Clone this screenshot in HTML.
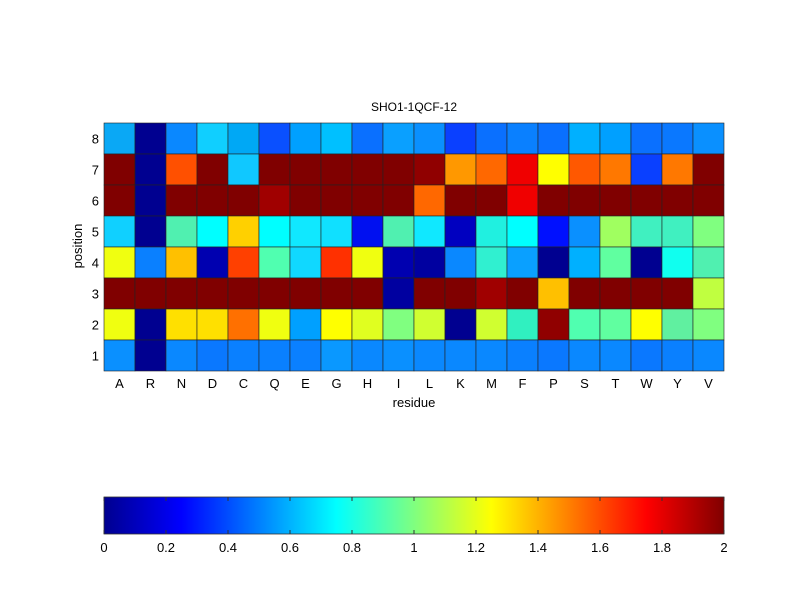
<!DOCTYPE html>
<html><head><meta charset="utf-8"><style>
html,body{margin:0;padding:0;background:#fff;}
svg{display:block;font-family:"Liberation Sans",Arial,sans-serif;}
</style></head><body>
<svg width="800" height="600" viewBox="0 0 800 600" xmlns="http://www.w3.org/2000/svg">
<defs>
<linearGradient id="jet" x1="0" x2="1" y1="0" y2="0">
<stop offset="0" stop-color="#00008f"/>
<stop offset="0.125" stop-color="#0000ff"/>
<stop offset="0.375" stop-color="#00ffff"/>
<stop offset="0.625" stop-color="#ffff00"/>
<stop offset="0.875" stop-color="#ff0000"/>
<stop offset="1" stop-color="#800000"/>
</linearGradient>
</defs>
<rect width="800" height="600" fill="#fff"/>
<g id="cells" stroke="#222" stroke-width="0.6"></g>
<text x="414" y="111" font-size="12" text-anchor="middle">SHO1-1QCF-12</text>
<g font-size="13" text-anchor="end" id="yl"></g>
<g font-size="13" text-anchor="middle" id="xl"></g>
<text x="414" y="407" font-size="13" text-anchor="middle">residue</text>
<text transform="translate(82,246) rotate(-90)" font-size="13" text-anchor="middle">position</text>
<rect x="104" y="497" width="620" height="37" fill="url(#jet)" stroke="#333" stroke-width="0.8"/>
<g id="cb" font-size="13" text-anchor="middle"></g>
</svg>
<script>
var rows=[
["#0aa8f5","#000090","#0a88ff","#10cfff","#00a8f5","#0a50ff","#00a0ff","#00c0ff","#0a70ff","#0aa0ff","#0a90ff","#0a40ff","#0a70ff","#0a80ff","#0a70ff","#00b0ff","#00a0ff","#0a70ff","#0a78ff","#0a90ff"],
["#800000","#000090","#ff5000","#800000","#10c8ff","#800000","#800000","#800000","#800000","#800000","#900000","#ff9800","#ff6800","#f00000","#ffff00","#ff5800","#ff7800","#0a40ff","#ff7800","#800000"],
["#800000","#000090","#800000","#800000","#800000","#a00000","#800000","#800000","#800000","#800000","#ff6800","#800000","#800000","#f00000","#800000","#800000","#800000","#800000","#800000","#800000"],
["#10d0ff","#000090","#50f0b0","#00ffff","#ffd000","#00ffff","#10e8ff","#10e0ff","#0010f0","#50f0b0","#10e8ff","#0000c0","#20f0e0","#00ffff","#0010ff","#0a90ff","#a0ff60","#40f0c0","#40f0c0","#80ff80"],
["#f0ff10","#0a80ff","#ffc000","#0000b0","#ff4000","#50ffb0","#10d8ff","#ff3000","#f0ff10","#0000b0","#0000a0","#0a88ff","#30f0d0","#0aa0ff","#000090","#00b0ff","#60ffa0","#000090","#10ffef","#50f0b0"],
["#800000","#800000","#800000","#800000","#800000","#800000","#800000","#800000","#800000","#0000a0","#800000","#800000","#a00000","#800000","#ffc000","#800000","#800000","#800000","#800000","#c0ff40"],
["#f0ff10","#000090","#ffe000","#ffe000","#ff7000","#f0ff10","#00a0ff","#ffff00","#e0ff20","#80ff80","#d0ff30","#000090","#d0ff30","#30f0c0","#900000","#50ffb0","#60ffa0","#ffff00","#60f0a0","#80ff80"],
["#0a90ff","#000090","#0a88ff","#0a78ff","#0a80ff","#0a80ff","#0a80ff","#0a98ff","#0a88ff","#0a90ff","#0a88ff","#0a88ff","#0a88ff","#0a80ff","#0a78ff","#0a88ff","#0a88ff","#0a78ff","#0a80ff","#0a88ff"]];
var ns="http://www.w3.org/2000/svg";
function el(t,a,p,txt){var e=document.createElementNS(ns,t);for(var k in a)e.setAttribute(k,a[k]);if(txt!=null)e.textContent=txt;document.getElementById(p).appendChild(e);}
var x0=104,y0=123,cw=31,ch=248/8;
for(var r=0;r<8;r++)for(var c=0;c<20;c++)el("rect",{x:x0+c*cw,y:y0+r*ch,width:cw,height:ch,fill:rows[r][c]},"cells");
for(var r=0;r<8;r++)el("text",{x:99,y:y0+r*ch+ch/2+5},"yl",String(8-r));
var res="ARNDCQEGHILKMFPSTWYV";
for(var c=0;c<20;c++)el("text",{x:x0+c*cw+cw/2,y:388},"xl",res[c]);
var lab=["0","0.2","0.4","0.6","0.8","1","1.2","1.4","1.6","1.8","2"];
for(var i=0;i<=10;i++){var x=104+62*i;el("text",{x:x,y:552},"cb",lab[i]);
el("line",{x1:x,x2:x,y1:497,y2:501,stroke:"#333"},"cb");el("line",{x1:x,x2:x,y1:530,y2:534,stroke:"#333"},"cb");}
</script>
</body></html>
